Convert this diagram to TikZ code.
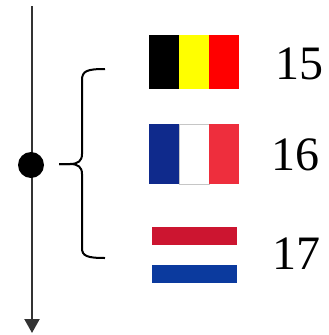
\documentclass[tikz,border=0pt]{standalone}
\usepackage{fontspec}
\setmainfont{Liberation Serif}
\usetikzlibrary{arrows.meta, positioning}
\definecolor{axis}{HTML}{333333}
\definecolor{beyellow}{HTML}{FFFF00}
\definecolor{bered}{HTML}{FF0000}
\definecolor{frblue}{HTML}{0F2A8C}
\definecolor{frred}{HTML}{EE2E3D}
\definecolor{nlred}{HTML}{CC1530}
\definecolor{nlblue}{HTML}{0B3A9E}
\tikzstyle{stripe} = [rectangle, inner sep=0pt, minimum width=29.7pt, minimum height=54pt]
\tikzstyle{band} = [rectangle, inner sep=0pt, minimum width=85pt, minimum height=18.7pt]
\tikzstyle{num} = [inner sep=0pt, font=\fontsize{48}{48}\selectfont]

\begin{document}
\begin{tikzpicture}[x=1pt, y=-1pt, >={Triangle[width=15pt, length=14pt]}]
    \useasboundingbox (0,0) rectangle (329,335);
    % axis and point
    \coordinate (top) at (32,6);
    \coordinate (bottom) at (32,333);
    \draw [->, line width=2.2pt, draw=axis] (top) -- (bottom);
    \node [circle, fill=black, minimum size=26pt, inner sep=0pt] (dot) at (31,165) {};
    % brace
    \coordinate (tip) at (59,164);
    \draw [line width=2pt] (105,69) .. controls (87,69) and (82,71) .. (82,80)
        -- (82,154) .. controls (82,161) and (78,164) .. (70,164) -- (tip);
    \draw [line width=2pt] (tip) -- (70,164) .. controls (78,164) and (82,167) .. (82,174)
        -- (82,248) .. controls (82,256) and (87,258) .. (105,258);
    % flags
    \node [stripe, fill=black] (be1) at (163.8,62) {};
    \node [stripe, fill=beyellow, right=0pt of be1] (be2) {};
    \node [stripe, fill=bered, right=0pt of be2] (be3) {};
    \node [stripe, minimum height=60pt, fill=frblue] (fr1) at (163.8,154) {};
    \node [stripe, minimum height=60pt, fill=white, draw=gray!45, line width=0.6pt, right=0pt of fr1] (fr2) {};
    \node [stripe, minimum height=60pt, fill=frred, right=0pt of fr2] (fr3) {};
    \node [band, minimum height=18pt, fill=nlred] (nl1) at (194.5,236) {};
    \node [band, fill=white, below=0pt of nl1] (nl2) {};
    \node [band, fill=nlblue, below=0pt of nl2] (nl3) {};
    % numbers
    \node [num] (n15) at (299,63.5) {15};
    \node [num] (n16) at (295,154.5) {16};
    \node [num] (n17) at (296,253.5) {17};
\end{tikzpicture}
\end{document}
